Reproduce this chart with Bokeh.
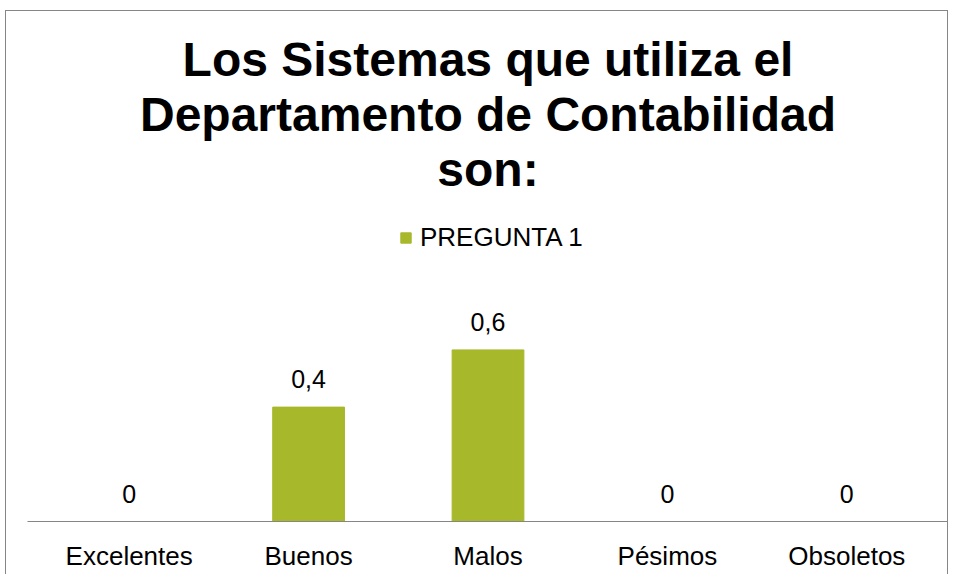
from bokeh.plotting import figure
from bokeh.models import ColumnDataSource, FactorRange, Range1d, LabelSet, Legend, LegendItem, Title
from bokeh.core.properties import value
from bokeh.embed import file_html
from bokeh.resources import INLINE

categories = ["Excelentes", "Buenos", "Malos", "Pésimos", "Obsoletos"]
values = [0, 0.4, 0.6, 0, 0]
series_name = "PREGUNTA 1"
title_lines = ["Los Sistemas que utiliza el", "Departamento de Contabilidad", "son:"]

labels = [f"{v:g}".replace(".", ",") for v in values]
src = ColumnDataSource(dict(cat=categories, val=values, lab=labels))

FONT = "Liberation Sans"
BAR = "#A8B82B"
GRAY = "#868686"

p = figure(
    x_range=FactorRange(factors=categories, range_padding=0.0667, range_padding_units="absolute"),
    y_range=Range1d(0, 1.14),
    width=943, height=564,
    output_backend="svg", toolbar_location=None,
    min_border_left=21, min_border_right=1, min_border_top=184, min_border_bottom=54,
)
p.styles = {"margin-left": "5px", "margin-top": "10px",
            "border-top": f"1px solid {GRAY}", "border-left": f"1px solid {GRAY}",
            "border-right": f"1px solid {GRAY}"}
p.outline_line_color = None
p.grid.visible = False
p.yaxis.visible = False

r = p.vbar(x="cat", top="val", width=0.4, source=src, fill_color=BAR, line_color=BAR)

p.add_layout(LabelSet(x="cat", y="val", text="lab", source=src, y_offset=19,
                      text_align="center", text_baseline="alphabetic",
                      text_font=value(FONT), text_font_size=value("25px"),
                      text_color="#000000"))

xa = p.xaxis[0]
xa.axis_line_color = GRAY
xa.axis_line_width = 1
xa.major_tick_line_color = None
xa.minor_tick_line_color = None
xa.major_tick_out = 0
xa.major_label_text_font = FONT
xa.major_label_text_font_size = "26px"
xa.major_label_text_color = "#000000"
xa.major_label_standoff = 19

legend = Legend(items=[LegendItem(label=series_name, renderers=[r])], location=(372, 268),
                orientation="horizontal", margin=0, padding=0, glyph_width=13, glyph_height=13,
                label_standoff=8, label_text_font=FONT, label_text_font_size="26px",
                label_text_color="#000000",
                background_fill_alpha=0, border_line_color=None)
p.add_layout(legend)

for line in reversed(title_lines):
    p.add_layout(Title(text=line, align="center", text_font=FONT, text_font_size="48px",
                       text_font_style="bold", text_color="#000000", standoff=0), "above")

open("out.html", "w").write(file_html(p, INLINE))
